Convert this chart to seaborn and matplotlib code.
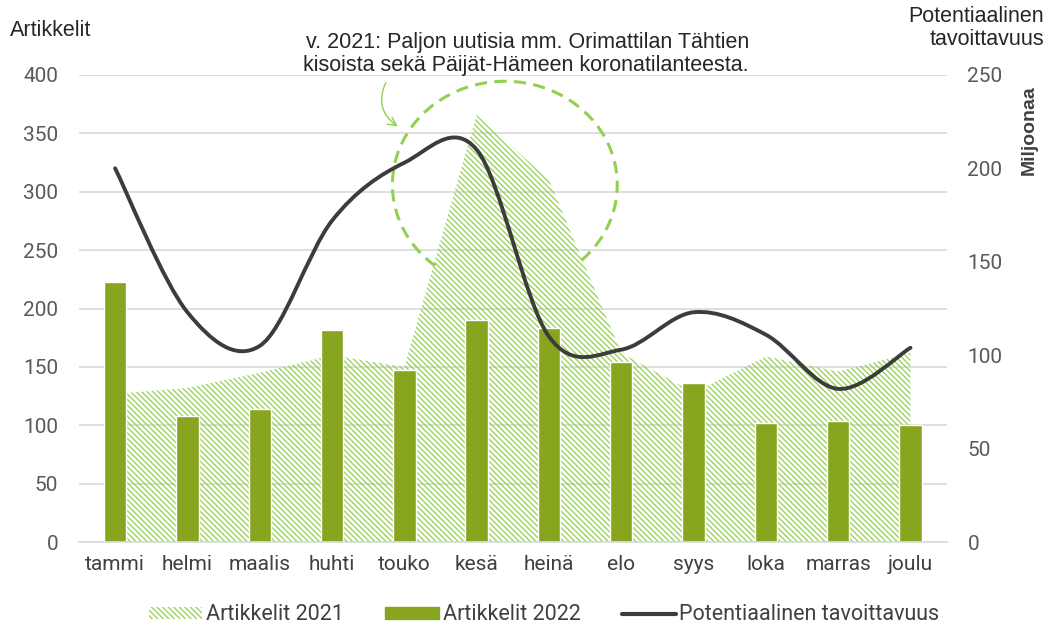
import matplotlib
matplotlib.use("Agg")
import matplotlib.pyplot as plt
import seaborn as sns
import numpy as np
from matplotlib.path import Path
from matplotlib.patches import PathPatch, Patch, FancyArrowPatch
from matplotlib.lines import Line2D
from matplotlib.transforms import Affine2D

# data
months = ['tammi', 'helmi', 'maalis', 'huhti', 'touko', 'kesä',
          'heinä', 'elo', 'syys', 'loka', 'marras', 'joulu']
articles_2021 = [127, 132, 145, 160, 150, 366, 310, 162, 128, 159, 146, 162]
articles_2022 = [223, 108, 114, 182, 147, 190, 183, 154, 136, 102, 104, 100]
reach_millions = [200, 123, 105, 172, 203, 210, 110, 103, 123, 111, 82, 104]

left_ticks = [0, 50, 100, 150, 200, 250, 300, 350, 400]
right_ticks = [0, 50, 100, 150, 200, 250]

note = ("v. 2021: Paljon uutisia mm. Orimattilan Tähtien\n"
        "kisoista sekä Päijät-Hämeen koronatilanteesta.")

LIGHT = '#92d050'
BAR = '#88a51f'
LINE = '#3c3c3c'
GRID = '#d9d9d9'
TICK = '#595959'
HATCH = '\\' * 6


def smooth_path(xs, ys):
    """Excel-style smoothed line as cubic bezier through the points."""
    pts = np.column_stack([xs, ys]).astype(float)
    n = len(pts)
    verts = [pts[0]]
    codes = [Path.MOVETO]
    for i in range(n - 1):
        p_prev = pts[max(i - 1, 0)]
        p0, p1 = pts[i], pts[i + 1]
        p_next = pts[min(i + 2, n - 1)]
        verts += [p0 + (p1 - p_prev) / 6, p1 - (p_next - p0) / 6, p1]
        codes += [Path.CURVE4] * 3
    return Path(verts, codes)


sns.set_style('white')
plt.rcParams['font.family'] = ['Roboto', 'DejaVu Sans']
plt.rcParams['hatch.color'] = LIGHT
plt.rcParams['hatch.linewidth'] = 0.9

fig = plt.figure(figsize=(10.46, 6.29), dpi=100)
ax = fig.add_axes([0.0755, 0.138, 0.8295, 0.743])

x = np.arange(len(months))
ax.fill_between(x, 0, articles_2021, facecolor='none', edgecolor=LIGHT,
                hatch=HATCH, linewidth=0, zorder=1)

sns.barplot(x=months, y=articles_2022, color=BAR, width=0.31,
            saturation=1, ax=ax)
for p in ax.patches:
    p.set_zorder(2)

ax.set_xlim(-0.5, len(months) - 0.5)
ax.set_ylim(0, 400)
ax.set_yticks(left_ticks)
ax.set_xlabel('')
ax.set_ylabel('')
ax.grid(axis='y', color=GRID, linewidth=1.2)
ax.set_axisbelow(True)
for s in ['top', 'left', 'right']:
    ax.spines[s].set_visible(False)
ax.spines['bottom'].set_color(GRID)
ax.spines['bottom'].set_linewidth(1.2)
ax.tick_params(axis='y', length=0, pad=15, labelsize=15, labelcolor=TICK)
ax.tick_params(axis='x', length=0, pad=9, labelsize=15, labelcolor='#404040')

# dashed highlight circle (open at the bottom) around the summer peak
ring = Affine2D().scale(1.555, 88.5).translate(5.39, 306)
ax.add_patch(PathPatch(Path.arc(-47, 234), transform=ring + ax.transData,
                       fill=False, edgecolor=LIGHT, linewidth=2.2,
                       linestyle=(0, (4, 2.4)), zorder=4))

ax2 = ax.twinx()
ax2.set_ylim(0, 250)
ax2.set_yticks(right_ticks)
for s in ax2.spines.values():
    s.set_visible(False)
ax2.tick_params(axis='y', length=0, pad=15, labelsize=15, labelcolor=TICK)
ax2.add_patch(PathPatch(smooth_path(x, reach_millions), fill=False,
                        edgecolor=LINE, linewidth=2.8, capstyle='round',
                        joinstyle='round', zorder=5))

# texts around the plot
arial = ['Liberation Sans', 'DejaVu Sans']
fig.text(10 / 1046, 1 - 30 / 629, 'Artikkelit', fontsize=15.5,
         family=arial, ha='left', va='center')
fig.text(1044 / 1046, 1 - 28 / 629, 'Potentiaalinen\ntavoittavuus',
         fontsize=15.5, family=arial, ha='right', va='center',
         multialignment='right', linespacing=1.15)
fig.text(1029 / 1046, 1 - 130 / 629, 'Miljoonaa', fontsize=14,
         fontweight='bold', family=arial, color='#404040', rotation=90,
         ha='center', va='center')
fig.text(749 / 1046, 1 - 54 / 629, note, fontsize=15.5, family=arial,
         ha='right', va='center', multialignment='right', linespacing=1.15)
fig.add_artist(FancyArrowPatch(
    (387 / 1046, 1 - 80 / 629), (400 / 1046, 1 - 128 / 629),
    transform=fig.transFigure, arrowstyle='->,head_length=6,head_width=3',
    connectionstyle='arc3,rad=0.45', color=LIGHT, linewidth=1))

handles = [
    Patch(facecolor='none', edgecolor=LIGHT, hatch=HATCH, linewidth=0),
    Patch(facecolor=BAR, edgecolor=BAR),
    Line2D([0], [0], color=LINE, linewidth=3),
]
labels = ['Artikkelit 2021', 'Artikkelit 2022', 'Potentiaalinen tavoittavuus']
fig.legend(handles, labels, loc='center', ncol=3, frameon=False,
           bbox_to_anchor=(544 / 1046, 1 - 615 / 629), fontsize=15.5,
           labelcolor='#404040', handlelength=2.5, handleheight=0.5,
           handletextpad=0.15, columnspacing=1.95)

fig.savefig('out.png', dpi=100)
